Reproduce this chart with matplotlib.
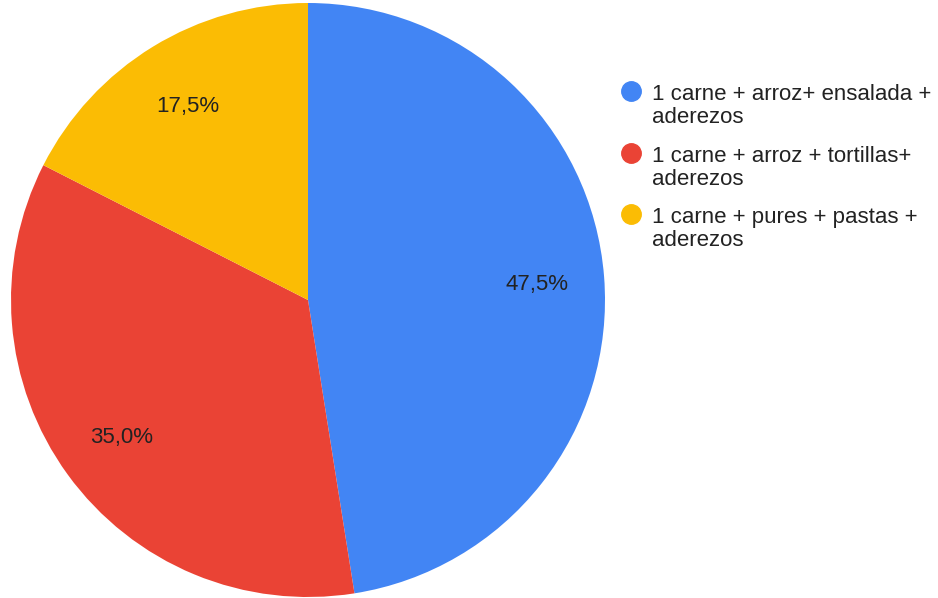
import matplotlib
matplotlib.use("Agg")
import matplotlib.pyplot as plt
from matplotlib.lines import Line2D

labels = ["1 carne + arroz+ ensalada +\naderezos",
          "1 carne + arroz + tortillas+\naderezos",
          "1 carne + pures + pastas +\naderezos"]
values = [47.5, 35.0, 17.5]
colors = ["#4285F4", "#EA4335", "#FBBC04"]

plt.rcParams['font.family'] = ['Liberation Sans', 'DejaVu Sans']

W, H = 938, 598
fig = plt.figure(figsize=(W/100, H/100), dpi=100)
cx, cy, r = 308, 300, 297
ax = fig.add_axes([(cx - r)/W, (H - cy - r)/H, 2*r/W, 2*r/H])
wedges, texts, autotexts = ax.pie(
    values, colors=colors, startangle=90, counterclock=False,
    autopct=lambda p: f"{p:.1f}%".replace(".", ","), pctdistance=0.775,
    wedgeprops=dict(linewidth=0),
    textprops=dict(fontsize=16, color="#222222"))
for t in autotexts:
    t.set_y(t.get_position()[1] - 0.008)
ax.set_xlim(-1, 1)
ax.set_ylim(-1, 1)
ax.set_aspect("equal")
ax.axis("off")

ys = [91, 153, 214]
for lab, col, y in zip(labels, colors, ys):
    fig.add_artist(Line2D([631/W], [1 - y/H], marker='o', markersize=14,
                          color=col, transform=fig.transFigure, linestyle='none'))
    for i, line in enumerate(lab.split("\n")):
        fig.text(652/W, 1 - (y + 9 + 23*i)/H, line, fontsize=16, color="#222222",
                 va="baseline", ha="left")

fig.savefig("out.png", dpi=100)
